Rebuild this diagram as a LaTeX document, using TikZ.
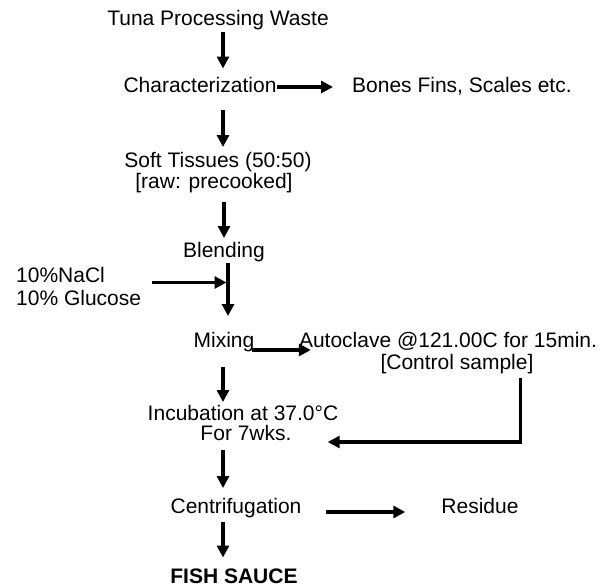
\documentclass[tikz,border=0pt]{standalone}
\usepackage{fontspec}
\setmainfont{Liberation Sans}
\usetikzlibrary{arrows.meta,calc}
\begin{document}
\begin{tikzpicture}[x=1pt,y=-1pt,
  lbl/.style={inner sep=0pt,anchor=base,text height=15.3pt,text depth=4.5pt,font=\fontsize{21}{21}\selectfont},
  arr/.style={line width=3.5pt,-{Triangle[length=12pt,width=12pt]}},
  ln/.style={line width=3.5pt}]
\useasboundingbox (0,0) rectangle (604,586);
\coordinate (cx) at (223,0);
\node[lbl] (tuna) at (218,25.5) {Tuna Processing Waste};
\node[lbl] (char) at (200,92) {Characterization};
\node[lbl,anchor=base west] (bones) at (352,92) {Bones Fins, Scales etc.};
\node[lbl] (soft1) at (218,167.5) {Soft Tissues (50:50)};
\node[lbl] (soft2) at (214,188.5) {[raw: precooked]};
\node[lbl] (blend) at (224,257.5) {Blending};
\node[lbl,anchor=base west] (nacl) at (16,282.5) {10\%NaCl};
\node[lbl,anchor=base west] (gluc) at (16,305.5) {10\% Glucose};
\node[lbl] (mix) at (224,347.5) {Mixing};
\node[lbl] (auto) at (448,347.5) {Autoclave @121.00C for 15min.};
\node[lbl] (ctrl) at (457,369.5) {[Control sample]};
\node[lbl] (inc1) at (243,420.5) {Incubation at 37.0°C};
\node[lbl] (inc2) at (246,440.5) {For 7wks.};
\node[lbl] (centr) at (236,513.5) {Centrifugation};
\node[lbl] (res) at (480,513.5) {Residue};
\node[lbl,font=\fontsize{21}{21}\selectfont\bfseries,text depth=0pt] (fish) at (234,583) {FISH SAUCE};
\coordinate (join) at (228,282.5);
% main vertical arrows
\draw[arr,shorten <=2pt,shorten >=8pt] (tuna.south -| cx) -- (char.north -| cx);
\draw[arr] ($(char.base east)+(0,-5)$) -- ($(bones.base west)+(-19,-5)$);
\draw[arr,shorten <=13pt,shorten >=5pt] (char.south -| cx) -- (soft1.north -| cx);
\draw[arr,shorten <=9pt,shorten >=4pt] ($(soft2.south -| cx)+(1,0)$) -- ($(blend.north -| cx)+(1,0)$);
\draw[arr,shorten <=1pt,shorten >=16pt] (blend.south -| join) -- (mix.north -| join);
\draw[arr,shorten <=47pt,shorten >=1.5pt] (nacl.base east) -- (join);
\draw[arr] ($(mix.base east)+(-3,2.5)$) -- ($(auto.base west)+(12,2.5)$);
\draw[arr,shorten <=15pt,shorten >=3pt] (mix.south -| cx) -- (inc1.north -| cx);
\draw[arr] ($(ctrl.south east)+(-13,4)$) |- ($(inc2.base east)+(36,1.5)$);
\draw[arr,shorten <=5pt,shorten >=10pt] (inc2.south -| cx) -- (centr.north -| cx);
\draw[arr] ($(centr.base east)+(24,-1.5)$) -- ($(res.base west)+(-36,-1.5)$);
\draw[arr,shorten <=4pt,shorten >=10pt] (centr.south -| cx) -- (fish.north -| cx);
\end{tikzpicture}
\end{document}
